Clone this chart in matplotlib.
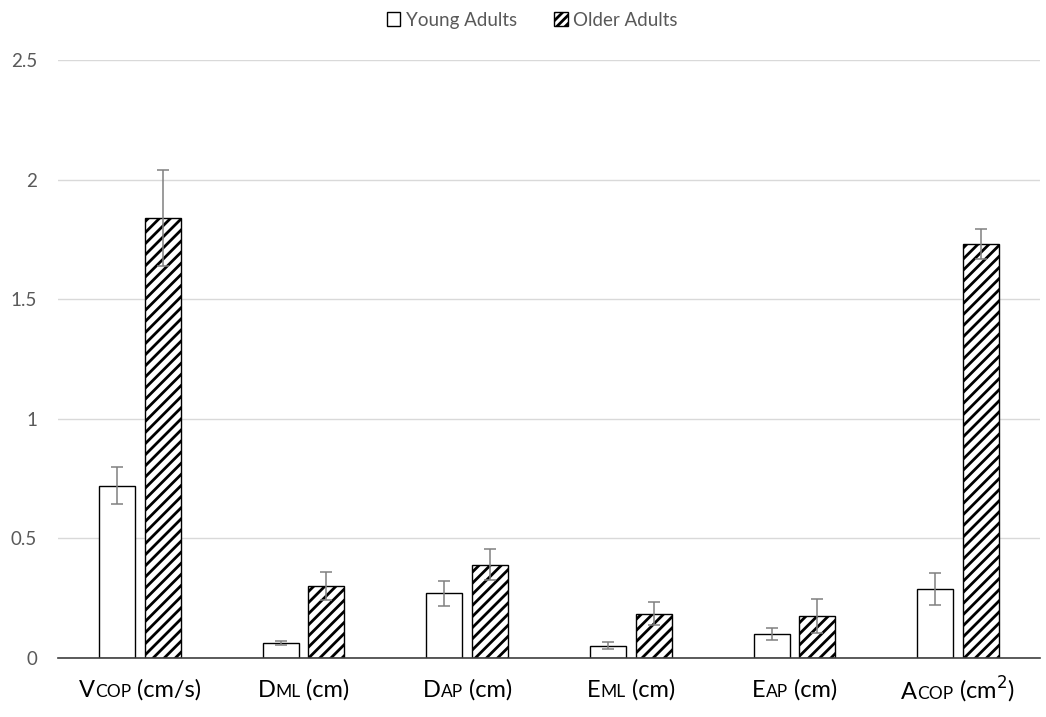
import matplotlib
matplotlib.use("Agg")
import matplotlib.pyplot as plt
import numpy as np
from matplotlib.patches import Patch
from matplotlib.offsetbox import TextArea, HPacker, AnnotationBbox

# Measures of centre-of-pressure sway
main_letters = ["V", "D", "D", "E", "E", "A"]
sub_letters = ["COP", "ML", "AP", "ML", "AP", "COP"]
units = [" (cm/s)", " (cm)", " (cm)", " (cm)", " (cm)", " (cm$^2$)"]

young_mean = [0.72, 0.063, 0.27, 0.052, 0.10, 0.29]
young_err = [0.077, 0.007, 0.052, 0.013, 0.025, 0.067]
older_mean = [1.84, 0.30, 0.39, 0.184, 0.176, 1.73]
older_err = [0.20, 0.058, 0.065, 0.048, 0.07, 0.063]

series_names = ["Young Adults", "Older Adults"]
y_ticks = [0, 0.5, 1, 1.5, 2, 2.5]
y_tick_labels = ["0", "0.5", "1", "1.5", "2", "2.5"]

plt.rcParams["font.family"] = ["Lato", "DejaVu Sans"]
plt.rcParams["hatch.linewidth"] = 2.0
plt.rcParams["hatch.color"] = "black"

fig = plt.figure(figsize=(10.46, 7.17), dpi=100)
ax = fig.add_axes([0.0555, 0.0823, 0.9388, 0.834])

x = np.arange(len(main_letters))
width = 0.22
offset = 0.14
err_kw = dict(ecolor="#808080", elinewidth=1.1, capsize=4.5, capthick=1.1)

ax.bar(x - offset, young_mean, width, yerr=young_err, color="white",
       edgecolor="black", linewidth=1.0, error_kw=err_kw, zorder=3)
ax.bar(x + offset, older_mean, width, yerr=older_err, color="white",
       edgecolor="black", linewidth=1.0, hatch="///", error_kw=err_kw, zorder=3)

ax.set_xlim(-0.5, len(main_letters) - 0.5)
ax.set_ylim(0, 2.5)
ax.set_yticks(y_ticks)
ax.set_yticklabels(y_tick_labels)
ax.tick_params(axis="y", length=0, pad=15, labelsize=13.5, labelcolor="#595959")
ax.tick_params(axis="x", length=0, labelbottom=False)
ax.yaxis.grid(True, color="#d9d9d9", linewidth=1.0, zorder=0)
ax.set_axisbelow(True)
for side in ["top", "right", "left"]:
    ax.spines[side].set_visible(False)
ax.spines["bottom"].set_color("#3f3f3f")
ax.spines["bottom"].set_linewidth(1.2)
ax.spines["bottom"].set_zorder(4)

# Category labels with baseline-level small subscripts
for i in range(len(main_letters)):
    parts = [
        TextArea(main_letters[i], textprops=dict(size=17, color="black")),
        TextArea(sub_letters[i], textprops=dict(size=12.5, color="black")),
        TextArea(units[i], textprops=dict(size=17, color="black")),
    ]
    box = HPacker(children=parts, align="baseline", pad=0, sep=0)
    ab = AnnotationBbox(box, (x[i], 0), xycoords=("data", "axes fraction"),
                        xybox=(0, -23), boxcoords="offset points",
                        box_alignment=(0.5, 0.5), frameon=False, pad=0)
    ax.add_artist(ab)

handles = [
    Patch(facecolor="white", edgecolor="black", linewidth=1.0, label=series_names[0]),
    Patch(facecolor="white", edgecolor="black", linewidth=1.0, hatch="////", label=series_names[1]),
]
leg = fig.legend(handles=handles, loc="center", bbox_to_anchor=(0.509, 0.972),
                 ncol=2, frameon=False, fontsize=13.5, handlelength=0.7,
                 handleheight=0.7, handletextpad=0.3, columnspacing=2.0)
for t in leg.get_texts():
    t.set_color("#595959")

fig.savefig("out.png", dpi=100)
